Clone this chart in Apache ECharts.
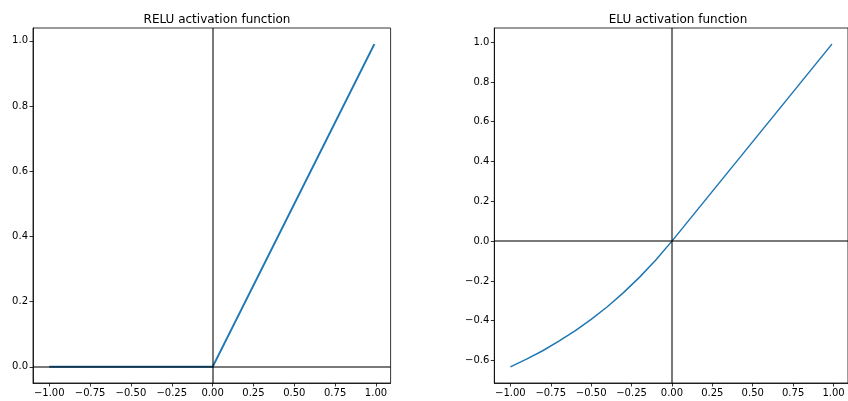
<!DOCTYPE html>
<html>
<head>
<meta charset="utf-8">
<script src="https://cdn.jsdelivr.net/npm/echarts@6/dist/echarts.min.js"></script>
<style>
html,body{margin:0;padding:0;background:#fff;}
#chart{width:848px;height:401px;}
</style>
</head>
<body>
<div id="chart"></div>
<script>
// RELU: flat at zero for negative inputs, identity for positive
const reluX = [-1.0, 0.0, 0.99];
const reluY = [0.0, 0.0, 0.99];

// ELU: exponential approach to -0.63 on the left, identity on the right
const eluX = [-1.0, -0.9, -0.8, -0.7, -0.6, -0.5, -0.4, -0.3, -0.2, -0.1, 0.0, 0.99];
const eluY = [-0.632, -0.593, -0.551, -0.503, -0.451, -0.393, -0.330, -0.259, -0.181, -0.095, 0.0, 0.99];

const xTicks = [-1.0, -0.75, -0.5, -0.25, 0.0, 0.25, 0.5, 0.75, 1.0];
const reluYTicks = [0.0, 0.2, 0.4, 0.6, 0.8, 1.0];
const eluYTicks = [-0.6, -0.4, -0.2, 0.0, 0.2, 0.4, 0.6, 0.8, 1.0];

const titles = ['RELU activation function', 'ELU activation function'];

const FONT = 'DejaVu Sans';
const BLUE = '#1f77b4';

function fmt(v, d) {
  return Number(v).toFixed(d).replace('-', '\u2212');
}

function pairs(xs, ys) {
  return xs.map((x, i) => [x, ys[i]]);
}

function xAxis(gridIndex, ticks, min, max) {
  return {
    type: 'value', gridIndex, min, max,
    axisLine: { show: true, onZero: false, lineStyle: { color: '#000', width: 0.8 } },
    axisTick: { show: true, length: 3.5, lineStyle: { color: '#000', width: 0.8 }, customValues: ticks },
    axisLabel: { show: true, customValues: ticks, margin: 5, color: '#000',
      fontFamily: FONT, fontSize: 10, formatter: v => fmt(v, 2) },
    splitLine: { show: false }
  };
}

function yAxis(gridIndex, ticks, min, max) {
  return {
    type: 'value', gridIndex, min, max,
    axisLine: { show: true, onZero: false, lineStyle: { color: '#000', width: 0.8 } },
    axisTick: { show: true, length: 3.5, lineStyle: { color: '#000', width: 0.8 }, customValues: ticks },
    axisLabel: { show: true, customValues: ticks, margin: 5, color: '#000',
      fontFamily: FONT, fontSize: 10, formatter: v => fmt(v, 1) },
    splitLine: { show: false }
  };
}

// zero reference lines drawn over the curves
function zeroLines(xi, yi) {
  return {
    type: 'line', xAxisIndex: xi, yAxisIndex: yi, data: [], z: 10,
    silent: true,
    markLine: {
      silent: true, symbol: 'none', animation: false, z: 10,
      label: { show: false },
      lineStyle: { color: 'rgba(0,0,0,0.7)', width: 1.5, type: 'solid' },
      data: [{ xAxis: 0 }, { yAxis: 0 }]
    }
  };
}

const chart = echarts.init(document.getElementById('chart'), null, { renderer: 'canvas' });

chart.setOption({
  animation: false,
  backgroundColor: '#fff',
  title: [
    { text: titles[0], left: 212, top: 9, textAlign: 'center',
      textStyle: { fontFamily: FONT, fontSize: 12, fontWeight: 'normal', color: '#000' } },
    { text: titles[1], left: 673, top: 9, textAlign: 'center',
      textStyle: { fontFamily: FONT, fontSize: 12, fontWeight: 'normal', color: '#000' } }
  ],
  grid: [
    { left: 33, top: 28, width: 357.6, height: 355, show: true,
      borderColor: '#000', borderWidth: 0.8, backgroundColor: 'transparent' },
    { left: 494.3, top: 28, width: 357.6, height: 355, show: true,
      borderColor: '#000', borderWidth: 0.8, backgroundColor: 'transparent' }
  ],
  xAxis: [
    xAxis(0, xTicks, -1.0995, 1.0895),
    xAxis(1, xTicks, -1.0995, 1.0895)
  ],
  yAxis: [
    yAxis(0, reluYTicks, -0.0495, 1.0395),
    yAxis(1, eluYTicks, -0.7131, 1.0711)
  ],
  series: [
    { type: 'line', xAxisIndex: 0, yAxisIndex: 0, data: pairs(reluX, reluY),
      showSymbol: false, lineStyle: { color: BLUE, width: 2 }, z: 2 },
    { type: 'line', xAxisIndex: 1, yAxisIndex: 1, data: pairs(eluX, eluY),
      showSymbol: false, lineStyle: { color: BLUE, width: 1.5 }, z: 2 },
    zeroLines(0, 0),
    zeroLines(1, 1)
  ]
});
</script>
</body>
</html>
